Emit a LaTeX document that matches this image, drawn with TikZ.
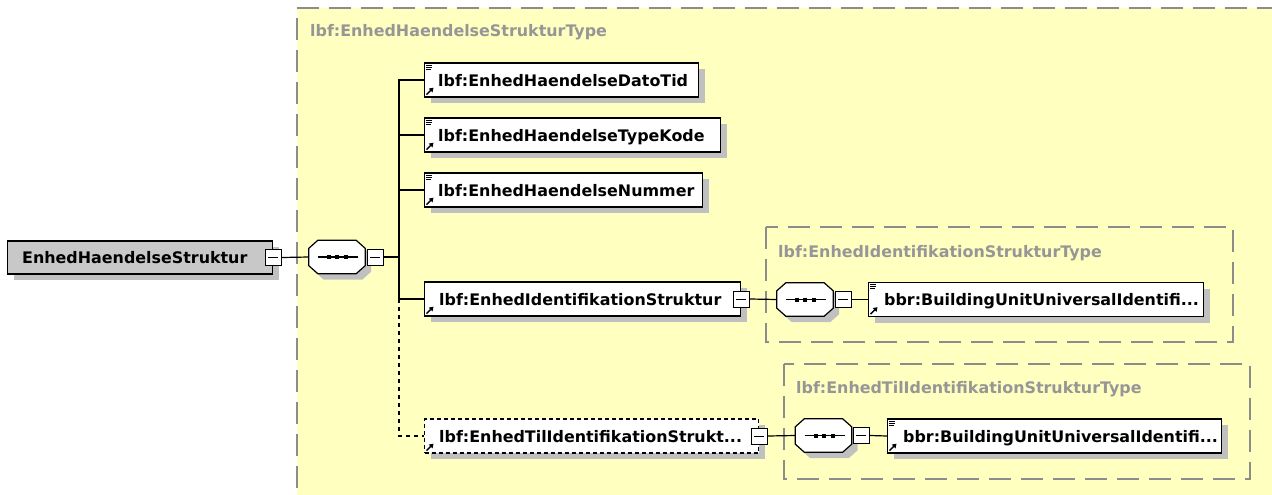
\documentclass[tikz,border=0pt]{standalone}
\usepackage{fontspec}
\setmainfont{DejaVu Sans}
\usetikzlibrary{shadows,arrows.meta}
\definecolor{bgyellow}{RGB}{255,255,192}
\definecolor{framegray}{RGB}{140,140,140}
\definecolor{labelgray}{RGB}{150,150,150}
\definecolor{shadowgray}{RGB}{192,192,192}
\definecolor{rootgray}{RGB}{200,200,200}
\newcommand\eliconlines[1]{%
  \draw[line width=0.9pt] ([xshift=2pt,yshift=-3pt]#1.north west) -- ++(6,0);
  \draw[line width=0.9pt] ([xshift=2pt,yshift=-5pt]#1.north west) -- ++(6,0);
  \draw[line width=0.9pt] ([xshift=2pt,yshift=-7pt]#1.north west) -- ++(5,0);}
\newcommand\eliconarrow[1]{%
  \draw[line width=1.3pt,-{Triangle[length=4pt,width=5pt]}] ([xshift=2.5pt,yshift=3pt]#1.south west) -- ++(7,-7);}
\newcommand\octpath[1]{([xshift=9pt]#1.north west) -- ([xshift=-9pt]#1.north east) -- ([yshift=-8pt]#1.north east) -- ([yshift=8pt]#1.south east) -- ([xshift=-9pt]#1.south east) -- ([xshift=9pt]#1.south west) -- ([yshift=8pt]#1.south west) -- ([yshift=-8pt]#1.north west) -- cycle}
\newcommand\seqshape[1]{%
  \begin{scope}[transform canvas={xshift=6pt,yshift=-6pt}]
    \fill[shadowgray] \octpath{#1};
  \end{scope}
  \draw[line width=1.2pt,fill=white] \octpath{#1};
  \draw[line width=1.2pt] ([xshift=-19pt]#1.center) -- ([xshift=21pt]#1.center);
  \fill[black] ([xshift=-8pt]#1.center) +(-2,-2) rectangle +(2,2);
  \fill[black] (#1.center) +(-2,-2) rectangle +(2,2);
  \fill[black] ([xshift=9pt]#1.center) +(-2,-2) rectangle +(2,2);}
\begin{document}
\begin{tikzpicture}[x=1pt,y=-1pt,
  font=\fontsize{15.9}{19}\selectfont\bfseries,
  shad/.style={drop shadow={shadow xshift=6pt,shadow yshift=-6pt,fill=shadowgray,opacity=1}},
  elembox/.style={draw=black,line width=1.3pt,fill=white,minimum height=34pt,anchor=west,inner sep=0pt,shad},
  optbox/.style={elembox,dash pattern=on 4pt off 3pt},
  rootbox/.style={draw=black,line width=1.4pt,fill=rootgray,minimum height=33pt,anchor=west,inner sep=0pt,shad},
  eltext/.style={anchor=base west,inner sep=0pt,text=black},
  typelabel/.style={anchor=base west,inner sep=0pt,text=labelgray},
  typeframe/.style={draw=framegray,line width=1.5pt,dash pattern=on 22pt off 10pt},
  minusbox/.style={draw=black,fill=white,line width=1pt,minimum size=16pt,inner sep=0pt,
    path picture={\draw[black,line width=1pt] ([xshift=3pt]path picture bounding box.west) -- ([xshift=-3pt]path picture bounding box.east);}},
  seqbox/.style={rectangle,draw=none,fill=none,minimum width=56pt,minimum height=33pt,inner sep=0pt},
  conn/.style={draw=black,line width=1.2pt},
  optconn/.style={conn,dash pattern=on 4pt off 4pt}]
\useasboundingbox (0,0) rectangle (1272,495);
\fill[white] (0,0) rectangle (1272,495);
\begin{scope}
  \clip (0,0) rectangle (1272,495);
  \fill[bgyellow] (297,8) rectangle (1300,520);
  \draw[typeframe] (297,520) -- (297,8) -- (1300,8);
\end{scope}
\draw[typeframe] (766,227) rectangle (1233,342);
\draw[typeframe] (784,364) rectangle (1250,479);
\node[typelabel] (t0) at (310,37) {lbf:EnhedHaendelseStrukturType};
\node[typelabel] (t1) at (778,257) {lbf:EnhedIdentifikationStrukturType};
\node[typelabel] (t2) at (796,393) {lbf:EnhedTilIdentifikationStrukturType};

% root
\node[rootbox,minimum width=265] (root) at (7,257.5) {};
\node[eltext] (roott) at ([xshift=15pt,yshift=-6pt]root.west) {EnhedHaendelseStruktur};
\node[minusbox] (m0) at (root.east) {};

% sequence 1
\node[seqbox] (s1) at (337,257) {};
\seqshape{s1}
\node[minusbox] (m1) at ([xshift=10pt]s1.east) {};
\coordinate (bus) at (399,257);

% children
\node[elembox,minimum width=274] (e1) at (424,80) {};
\node[eltext] (e1t) at ([xshift=14pt,yshift=-6pt]e1.west) {lbf:EnhedHaendelseDatoTid};
\node[elembox,minimum width=296] (e2) at (424,135) {};
\node[eltext] (e2t) at ([xshift=14pt,yshift=-6pt]e2.west) {lbf:EnhedHaendelseTypeKode};
\node[elembox,minimum width=278] (e3) at (424,190) {};
\node[eltext] (e3t) at ([xshift=14pt,yshift=-6pt]e3.west) {lbf:EnhedHaendelseNummer};
\node[elembox,minimum width=316] (e4) at (424,299) {};
\node[eltext] (e4t) at ([xshift=15pt,yshift=-6pt]e4.west) {lbf:EnhedIdentifikationStruktur};
\node[minusbox] (m4) at (e4.east) {};
\node[optbox,minimum width=334] (e5) at (424,436) {};
\node[eltext] (e5t) at ([xshift=15pt,yshift=-6pt]e5.west) {lbf:EnhedTilIdentifikationStrukt...};
\node[minusbox] (m6) at (e5.east) {};

% nested 1
\node[seqbox] (s2) at (805,299.5) {};
\seqshape{s2}
\node[minusbox] (m5) at ([xshift=10pt]s2.east) {};
\node[elembox,minimum width=335] (b1) at (868,299.5) {};
\node[eltext] (b1t) at ([xshift=16pt,yshift=-6pt]b1.west) {bbr:BuildingUnitUniversalIdentifi...};

% nested 2
\node[seqbox] (s3) at (823.5,435.5) {};
\seqshape{s3}
\node[minusbox] (m7) at ([xshift=9.5pt]s3.east) {};
\node[elembox,minimum width=334] (b2) at (887,436) {};
\node[eltext] (b2t) at ([xshift=16pt,yshift=-6pt]b2.west) {bbr:BuildingUnitUniversalIdentifi...};

% icons
\eliconlines{e1}\eliconarrow{e1}
\eliconlines{e2}\eliconarrow{e2}
\eliconlines{e3}\eliconarrow{e3}
\eliconarrow{e4}
\eliconarrow{e5}
\eliconlines{b1}\eliconarrow{b1}
\eliconlines{b2}\eliconarrow{b2}

% connectors
\draw[conn] (m0.east) -- (s1.west);
\draw[conn] (m1.east) -- (bus);
\draw[conn] (e1.west) -- (e1.west -| bus) -- (e4.west -| bus) -- (e4.west);
\draw[conn] (e2.west) -- (e2.west -| bus);
\draw[conn] (e3.west) -- (e3.west -| bus);
\draw[optconn] (e4.west -| bus) -- (e5.west -| bus) -- (e5.west);
\draw[conn] (m4.east) -- (s2.west);
\draw[conn] (m5.east) -- (b1.west);
\draw[conn] (m6.east) -- (s3.west);
\draw[conn] (m7.east) -- (b2.west);
\end{tikzpicture}
\end{document}
